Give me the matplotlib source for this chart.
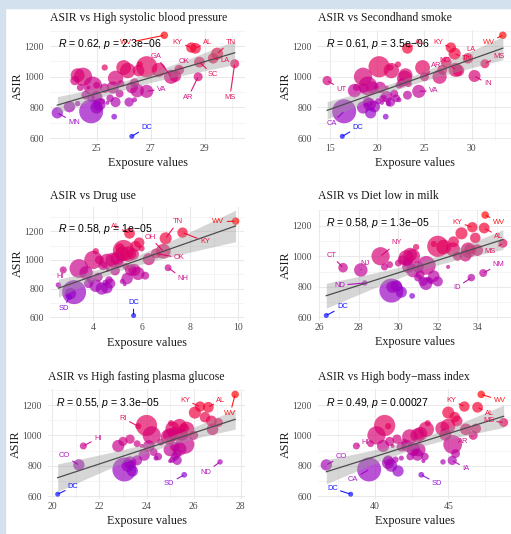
import matplotlib
matplotlib.use("Agg")
import matplotlib.pyplot as plt
import matplotlib.transforms as mtransforms
from matplotlib.colors import ListedColormap, Normalize
from matplotlib.patches import Rectangle
import numpy as np

plt.rcParams['mathtext.fontset'] = 'custom'
plt.rcParams['mathtext.rm'] = 'Liberation Sans'
plt.rcParams['mathtext.it'] = 'Liberation Sans:italic'

# ---- data -------------------------------------------------------------
states = ['WV', 'KY', 'AL', 'TN', 'LA', 'SC', 'MS', 'DE', 'TX', 'OH', 'RI', 'OK', 'NC', 'PA', 'MO', 'MI', 'IN',
          'NY', 'GA', 'AR', 'IL', 'UT', 'NV', 'ME', 'NH', 'FL', 'HI', 'MD', 'MA', 'VT', 'CT', 'NJ', 'VA', 'NM',
          'KS', 'WI', 'ID', 'NE', 'AK', 'MT', 'IA', 'OR', 'WY', 'ND', 'WA', 'CO', 'AZ', 'CA', 'MN', 'SD', 'DC']
asir = [1270, 1190, 1185, 1150, 1120, 1095, 1085, 1080, 1065, 1060, 1060, 1045, 1045, 1040, 1040, 1010, 1005,
        1000, 1000, 1000, 990, 975, 960, 955, 945, 940, 930, 930, 930, 930, 925, 910, 905, 890,
        880, 870, 860, 860, 850, 840, 835, 835, 830, 825, 820, 805, 800, 775, 765, 740, 612]
population = [1.8, 4.5, 5.0, 6.9, 4.7, 5.1, 3.0, 1.0, 29.0, 11.8, 1.1, 4.0, 10.5, 13.0, 6.2, 10.0, 6.8,
              20.0, 10.7, 3.0, 12.8, 3.3, 3.1, 1.4, 1.4, 21.5, 1.5, 6.2, 7.0, 0.6, 3.6, 9.3, 8.6, 2.1,
              2.9, 5.9, 1.8, 2.0, 0.7, 1.1, 3.2, 4.2, 0.6, 0.8, 7.7, 5.8, 7.2, 39.0, 5.7, 0.9, 0.7]

hsbp = [27.5, 28.5, 28.65, 29.45, 29.3, 28.8, 30.1, 26.6, 26.85, 26.0, 25.3, 28.05, 27.3, 26.15, 26.55, 24.3, 27.9,
        24.5, 27.75, 28.75, 25.7, 24.2, 26.4, 25.9, 25.0, 24.86, 24.4, 26.3, 25.6, 24.7, 25.3, 26.5, 26.85, 25.85,
        24.6, 25.0, 25.5, 24.8, 26.4, 25.2, 26.2, 25.7, 25.4, 24.3, 25.1, 24.0, 25.0, 24.8, 23.55, 25.65, 26.3]
smoke = [33.3, 27.8, 23.2, 28.2, 29.6, 27.3, 31.4, 22.2, 20.2, 24.8, 21.4, 26.9, 28.3, 21.5, 28.6, 23.0, 30.3,
         18.5, 26.6, 25.0, 22.9, 14.7, 22.6, 23.3, 22.3, 19.0, 17.8, 20.3, 19.5, 21.0, 18.6, 17.6, 24.4, 21.8,
         23.2, 21.0, 20.6, 22.0, 22.3, 20.1, 21.4, 19.0, 20.5, 21.2, 19.2, 19.7, 18.5, 16.5, 19.3, 20.9, 16.3]
drug = [9.9, 7.7, 5.5, 7.0, 5.9, 5.75, 5.1, 6.0, 5.25, 6.9, 4.1, 6.6, 5.2, 5.45, 5.65, 5.0, 6.3,
        4.0, 4.8, 4.25, 4.57, 5.05, 4.4, 5.35, 7.1, 3.4, 2.75, 5.55, 5.7, 4.6, 4.9, 3.7, 5.85, 6.15,
        4.2, 5.4, 4.65, 3.9, 5.2, 4.5, 3.8, 4.7, 5.3, 2.55, 4.1, 4.56, 4.35, 3.2, 3.05, 3.0, 5.67]
milk = [34.4, 33.75, 34.35, 33.2, 33.9, 32.8, 35.3, 31.8, 32.0, 32.3, 30.9, 33.6, 32.77, 33.55, 34.0, 30.6, 33.4,
        29.1, 30.74, 33.0, 30.4, 30.2, 30.45, 30.0, 29.56, 31.42, 29.3, 31.0, 30.5, 32.52, 27.2, 28.1, 30.74, 34.3,
        31.1, 31.8, 33.7, 31.0, 31.5, 31.6, 31.25, 32.0, 31.7, 28.3, 31.4, 29.9, 29.7, 29.65, 30.15, 30.7, 26.35]
glucose = [27.76, 26.27, 26.62, 26.05, 26.48, 26.75, 27.05, 25.04, 24.0, 25.4, 23.65, 25.6, 25.1, 25.7, 26.8, 25.2, 25.5,
           24.22, 25.0, 26.0, 24.93, 23.3, 23.0, 24.6, 23.6, 25.63, 21.32, 24.1, 22.8, 23.8, 25.2, 25.4, 25.0, 24.3,
           25.3, 23.9, 24.5, 25.2, 24.4, 25.1, 25.3, 23.6, 25.0, 27.12, 23.3, 21.13, 23.2, 23.06, 23.4, 25.6, 20.23]
bmi = [47.25, 46.1, 47.0, 45.0, 45.44, 45.6, 48.78, 43.6, 40.66, 44.98, 40.9, 46.9, 44.6, 43.5, 46.2, 43.1, 44.8,
       40.1, 42.9, 46.7, 42.37, 41.5, 41.0, 42.0, 39.7, 45.3, 38.73, 42.2, 40.55, 41.2, 41.8, 42.6, 43.0, 42.7,
       45.5, 42.9, 42.4, 43.4, 41.8, 41.4, 45.27, 40.9, 43.3, 44.64, 40.9, 36.68, 41.1, 39.6, 41.57, 43.16, 38.34]

titles = ['High systolic blood pressure', 'Secondhand smoke', 'Drug use',
          'Diet low in milk', 'High fasting plasma glucose', 'High body\u2212mass index']
exposures = [hsbp, smoke, drug, milk, glucose, bmi]
cor_text = ['R = 0.62, p = 2.3e\u221206', 'R = 0.61, p = 3.5e\u221206', 'R = 0.58, p = 1e\u221205',
            'R = 0.58, p = 1.3e\u221205', 'R = 0.55, p = 3.3e\u221205', 'R = 0.49, p = 0.00027']

# repelled label positions (data units) for the annotated states
label_pos = [
    {'WV': (26.1, 1220), 'KY': (28.0, 1226), 'AL': (29.1, 1226), 'TN': (29.94, 1226), 'LA': (29.74, 1107),
     'OK': (28.24, 1100), 'GA': (27.2, 1133), 'SC': (29.3, 1013), 'VA': (27.4, 920), 'AR': (28.38, 866),
     'MS': (29.92, 866), 'DC': (26.85, 671), 'MN': (24.17, 704)},
    {'AL': (24.5, 1226), 'KY': (26.43, 1226), 'WV': (31.8, 1226), 'LA': (29.96, 1176), 'MS': (32.9, 1133),
     'TN': (29.5, 1117), 'NC': (27.14, 1107), 'AR': (26.25, 1074), 'IN': (31.7, 953), 'VA': (25.98, 909),
     'UT': (16.2, 920), 'CA': (15.14, 695), 'DC': (17.96, 671)},
    {'AL': (4.9, 1235), 'TN': (7.5, 1265), 'WV': (9.19, 1265), 'OH': (6.35, 1158), 'KY': (8.63, 1130),
     'OK': (7.56, 1014), 'NH': (7.73, 869), 'HI': (2.62, 886), 'SD': (2.76, 660), 'DC': (5.66, 700)},
    {'KY': (32.99, 1224), 'WV': (35.08, 1224), 'AL': (35.08, 1131), 'MS': (34.66, 1032), 'NM': (35.08, 945),
     'ID': (32.97, 797), 'NY': (29.93, 1087), 'CT': (26.6, 1006), 'NJ': (28.3, 955), 'ND': (27.03, 810),
     'DC': (27.16, 668)},
    {'KY': (25.63, 1233), 'AL': (27.16, 1233), 'WV': (27.55, 1145), 'RI': (23.0, 1112), 'HI': (21.93, 980),
     'CO': (20.51, 864), 'DC': (20.89, 662), 'SD': (24.96, 684), 'ND': (26.51, 756)},
    {'KY': (45.2, 1233), 'WV': (48.5, 1233), 'AL': (47.82, 1145), 'MS': (47.75, 1097), 'AR': (46.05, 958),
     'IA': (46.19, 783), 'SD': (44.23, 684), 'CA': (38.5, 712), 'DC': (37.09, 651), 'CO': (37.7, 859),
     'HI': (39.3, 954)},
]

# ---- layout (pixels of the 511x534 picture) ---------------------------
W, H = 511, 534
boxes = [(50, 245, 30.2, 141.4), (318, 512, 30.2, 141.4),
         (50, 244, 206.5, 320.7), (318, 512, 210, 320.5),
         (48, 245.3, 389.4, 499.2), (318, 512, 389.4, 499.2)]
title_y = [18.3, 18.3, 196.3, 196.3, 376.7, 376.7]
xlims = [(23.28, 30.48), (13.73, 34.27), (2.2, 10.25), (25.93, 35.76), (19.82, 28.19), (36.11, 49.35)]
ylims = [(579, 1303), (579, 1303), (576, 1372), (579, 1303), (579, 1303), (579, 1303)]
xmajor = [[25, 27, 29], [15, 20, 25, 30], [4, 6, 8, 10], [26, 28, 30, 32, 34], [20, 22, 24, 26, 28], [40, 45]]
xminor = [[24, 26, 28, 30], [17.5, 22.5, 27.5, 32.5], [3, 5, 7, 9], [27, 29, 31, 33, 35], [21, 23, 25, 27],
          [37.5, 42.5, 47.5]]


# blue -> red gradient interpolated in CIELAB, like ggplot's scale_colour_gradient
def to_lab(rgb):
    c = np.where(rgb <= 0.04045, rgb / 12.92, ((rgb + 0.055) / 1.055) ** 2.4)
    M = np.array([[0.4124, 0.3576, 0.1805], [0.2126, 0.7152, 0.0722], [0.0193, 0.1192, 0.9505]])
    xyz = c @ M.T / np.array([0.95047, 1.0, 1.08883])
    f = np.where(xyz > 0.008856, np.cbrt(xyz), 7.787 * xyz + 16 / 116)
    return np.array([116 * f[1] - 16, 500 * (f[0] - f[1]), 200 * (f[1] - f[2])])


def from_lab(lab):
    fy = (lab[..., 0] + 16) / 116
    f = np.stack([fy + lab[..., 1] / 500, fy, fy - lab[..., 2] / 200], -1)
    xyz = np.where(f > 0.2069, f ** 3, (f - 16 / 116) / 7.787) * np.array([0.95047, 1.0, 1.08883])
    Minv = np.linalg.inv(np.array([[0.4124, 0.3576, 0.1805], [0.2126, 0.7152, 0.0722], [0.0193, 0.1192, 0.9505]]))
    c = np.clip(xyz @ Minv.T, 0, 1)
    return np.clip(np.where(c <= 0.0031308, 12.92 * c, 1.055 * c ** (1 / 2.4) - 0.055), 0, 1)


t = np.linspace(0, 1, 256)[:, None]
lab = (1 - t) * to_lab(np.array([0.0, 0.0, 1.0])) + t * to_lab(np.array([1.0, 0.0, 0.0]))
cmap = ListedColormap(from_lab(lab))

y = np.array(asir, dtype=float)
pop = np.array(population)
norm = Normalize(y.min(), y.max())
colors = cmap(norm(y))
diam_px = 4 + 20 * np.sqrt((pop - pop.min()) / (pop.max() - pop.min()))
sizes = (diam_px * 72 / 100) ** 2

fig = plt.figure(figsize=(W / 100, H / 100), dpi=100)
fig.patches.append(Rectangle((0, 1 - 8 / H), 1, 8 / H, transform=fig.transFigure, color='#d3e1ee', zorder=0))
fig.patches.append(Rectangle((0, 0), 5 / W, 1, transform=fig.transFigure, color='#d3e1ee', zorder=0))

serif = ['Liberation Serif', 'DejaVu Serif']
sans = ['Liberation Sans', 'DejaVu Sans']

for i in range(6):
    l, r, tp, b = boxes[i]
    ax = fig.add_axes([l / W, 1 - b / H, (r - l) / W, (b - tp) / H])
    x = np.array(exposures[i], dtype=float)

    ax.scatter(x, y, s=sizes, c=colors, alpha=0.68, linewidths=0, zorder=2)

    # linear fit with 95% confidence band
    n = len(x)
    slope, icpt = np.polyfit(x, y, 1)
    xs = np.linspace(x.min(), x.max(), 80)
    resid = y - (slope * x + icpt)
    s_err = np.sqrt(np.sum(resid ** 2) / (n - 2))
    se = s_err * np.sqrt(1 / n + (xs - x.mean()) ** 2 / np.sum((x - x.mean()) ** 2))
    fit = slope * xs + icpt
    ax.fill_between(xs, fit - 2.01 * se, fit + 2.01 * se, color='#999999', alpha=0.4, linewidth=0, zorder=3)
    ax.plot(xs, fit, color='#4d4d4d', lw=0.9, zorder=4)

    for st, (lx, ly) in label_pos[i].items():
        k = states.index(st)
        ax.annotate(st, xy=(x[k], y[k]), xytext=(lx, ly), ha='center', va='center',
                    fontsize=5.4, family=sans, color=colors[k], alpha=0.9, zorder=5,
                    arrowprops=dict(arrowstyle='-', color=colors[k], lw=0.8, alpha=0.9,
                                    shrinkA=0, shrinkB=1))

    trans = mtransforms.blended_transform_factory(ax.transAxes, ax.transData)
    rtxt = cor_text[i].replace('R =', '$R$ =').replace('p =', '$p$ =')
    ax.text(0.04, 1215, rtxt, transform=trans, ha='left', va='center', fontsize=7.6,
            family=sans, color='black', zorder=6)

    ax.set_xlim(*xlims[i])
    ax.set_ylim(*ylims[i])
    ax.set_xticks(xmajor[i])
    ax.set_xticks(xminor[i], minor=True)
    ax.set_yticks([600, 800, 1000, 1200])
    ax.set_yticks([y0 for y0 in (500, 700, 900, 1100, 1300) if ylims[i][0] < y0 < ylims[i][1]], minor=True)
    ax.grid(which='major', color='#e9e9e9', lw=0.75)
    ax.grid(which='minor', color='#f1f1f1', lw=0.55)
    ax.set_axisbelow(True)
    for sp in ax.spines.values():
        sp.set_visible(False)
    ax.tick_params(which='both', length=0, labelsize=7.0, labelcolor='#4d4d4d')
    ax.tick_params(axis='x', pad=2.0)
    ax.tick_params(axis='y', pad=4.3)
    for lab_ in ax.get_xticklabels() + ax.get_yticklabels():
        lab_.set_family(serif)

    fig.text(l / W, 1 - title_y[i] / H, 'ASIR vs ' + titles[i], ha='left', va='center',
             fontsize=8.5, family=serif, color='#1a1a1a')
    fig.text((l + r) / 2 / W, 1 - (b + 22) / H, 'Exposure values', ha='center', va='center',
             fontsize=8.7, family=serif, color='#1a1a1a')
    fig.text((l - 32) / W, 1 - ((tp + b) / 2) / H, 'ASIR', ha='center',
             va='center', rotation=90, fontsize=8.7, family=serif, color='#1a1a1a')

fig.savefig('out.png', dpi=100)
